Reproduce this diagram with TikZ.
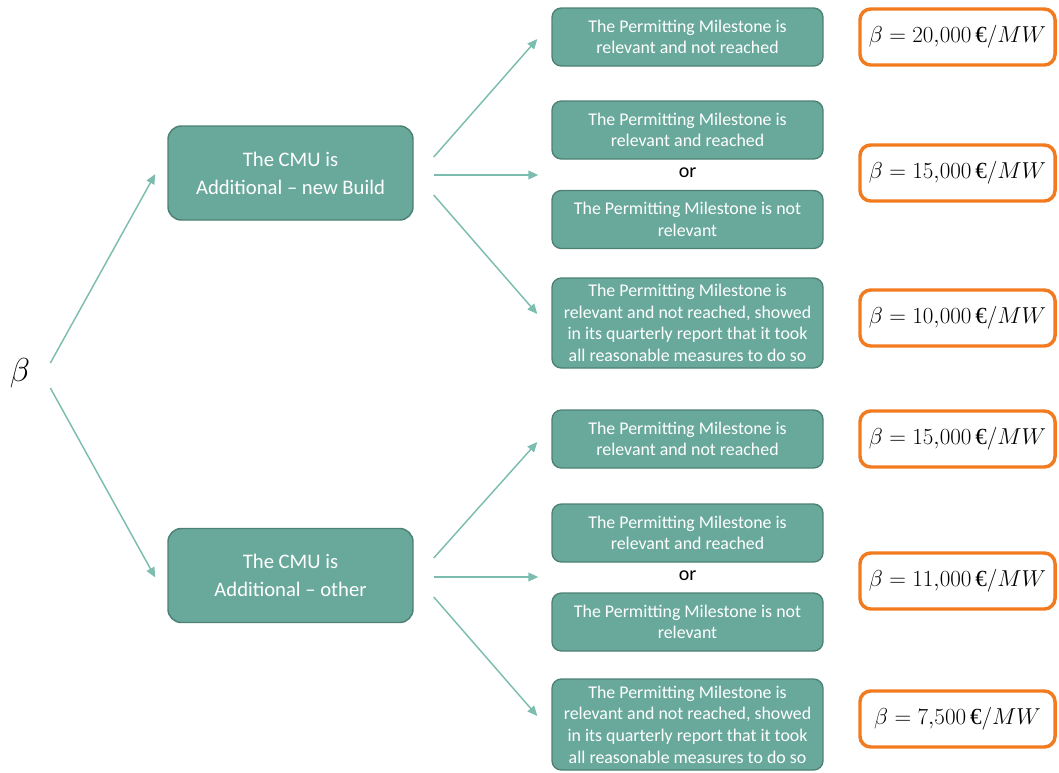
\documentclass[tikz,border=0pt]{standalone}
\usepackage{fontspec}
\setmainfont{Carlito}
\newfontfamily\eurofont{Liberation Serif}
\usetikzlibrary{arrows.meta}
\definecolor{boxfill}{HTML}{69A99B}
\definecolor{boxline}{HTML}{4C8174}
\definecolor{arrowc}{HTML}{7DBDB0}
\definecolor{valline}{HTML}{F27A1F}
\newcommand{\val}[1]{$\beta = #1\,$\eurofont €$/MW$}
\begin{document}
\begin{tikzpicture}[x=0.75pt,y=-0.75pt,
  cmubox/.style={draw=boxline, fill=boxfill, line width=1.1pt, rounded corners=10pt,
    minimum width=245*0.75pt, minimum height=94*0.75pt, inner sep=0pt,
    text=white, align=center, font=\fontsize{15.5}{21}\selectfont},
  pmbox/.style={draw=boxline, fill=boxfill, line width=1pt, rounded corners=7pt,
    minimum width=271*0.75pt, minimum height=#1*0.75pt, inner sep=0pt,
    text=white, align=center, font=\fontsize{13.4}{16.2}\selectfont},
  pmbox/.default=58,
  valbox/.style={draw=valline, fill=white, line width=2.6pt, rounded corners=8pt,
    minimum width=195*0.75pt, minimum height=56*0.75pt, inner sep=0pt,
    font=\fontsize{17.3}{20}\selectfont},
  ortext/.style={font=\fontsize{15}{16}\selectfont, inner sep=0pt},
  arr/.style={draw=arrowc, line width=1.1pt, -{Triangle[length=7.5pt,width=6.5pt]}}
]
\useasboundingbox (0,0) rectangle (1059,772);

% root symbol
\node[inner sep=0pt, font=\fontsize{23}{23}\selectfont] (beta) at (20,373) {$\beta$};

% first-level branches
\node[cmubox] (A) at (290.5,173) {The CMU is\\Additional -- new Build};
\node[cmubox] (B) at (290.5,575.5) {The CMU is\\Additional -- other};

% permitting conditions, new build
\node[pmbox] (r1) at (687.5,37) {The Permitting Milestone is\\relevant and not reached};
\node[pmbox] (r2a) at (687.5,130) {The Permitting Milestone is\\relevant and reached};
\node[ortext] (or1) at (687.5,173) {or};
\node[pmbox] (r2b) at (687.5,219.5) {The Permitting Milestone is not\\relevant};
\node[pmbox=90] (r3) at (687.5,323) {The Permitting Milestone is\\relevant and not reached, showed\\in its quarterly report that it took\\all reasonable measures to do so};

% permitting conditions, other
\node[pmbox] (r4) at (687.5,439) {The Permitting Milestone is\\relevant and not reached};
\node[pmbox] (r5a) at (687.5,533) {The Permitting Milestone is\\relevant and reached};
\node[ortext] (or2) at (687.5,576) {or};
\node[pmbox] (r5b) at (687.5,622) {The Permitting Milestone is not\\relevant};
\node[pmbox=91] (r6) at (687.5,724.5) {The Permitting Milestone is\\relevant and not reached, showed\\in its quarterly report that it took\\all reasonable measures to do so};

% resulting values
\node[valbox] (v1) at (957.5,37) {\val{20{,}000}};
\node[valbox] (v2) at (957.5,173) {\val{15{,}000}};
\node[valbox] (v3) at (957.5,318) {\val{10{,}000}};
\node[valbox] (v4) at (957.5,439) {\val{15{,}000}};
\node[valbox] (v5) at (957.5,581) {\val{11{,}000}};
\node[valbox] (v6) at (957.5,719) {\val{7{,}500}};

% arrow targets for the "or" groups
\coordinate (m1) at (A.east -| r2a.west);
\coordinate (m2) at (B.east -| r5a.west);

% connectors
\draw[arr] ([shift={(20,-10)}]beta.east) -- ([shift={(-12,1)}]A.west);
\draw[arr] ([shift={(20,15)}]beta.east) -- ([shift={(-12,2)}]B.west);

\draw[arr] ([shift={(20,-16)}]A.east) -- ([shift={(-14,2)}]r1.west);
\draw[arr] ([shift={(20,2)}]A.east) -- ([shift={(-13,2)}]m1);
\draw[arr] ([shift={(20,22)}]A.east) -- ([shift={(-14,-9)}]r3.west);

\draw[arr] ([shift={(20,-17.5)}]B.east) -- ([shift={(-14,3)}]r4.west);
\draw[arr] ([shift={(20,1.5)}]B.east) -- ([shift={(-13,1.5)}]m2);
\draw[arr] ([shift={(20,21.5)}]B.east) -- ([shift={(-14,-8.5)}]r6.west);
\end{tikzpicture}
\end{document}
